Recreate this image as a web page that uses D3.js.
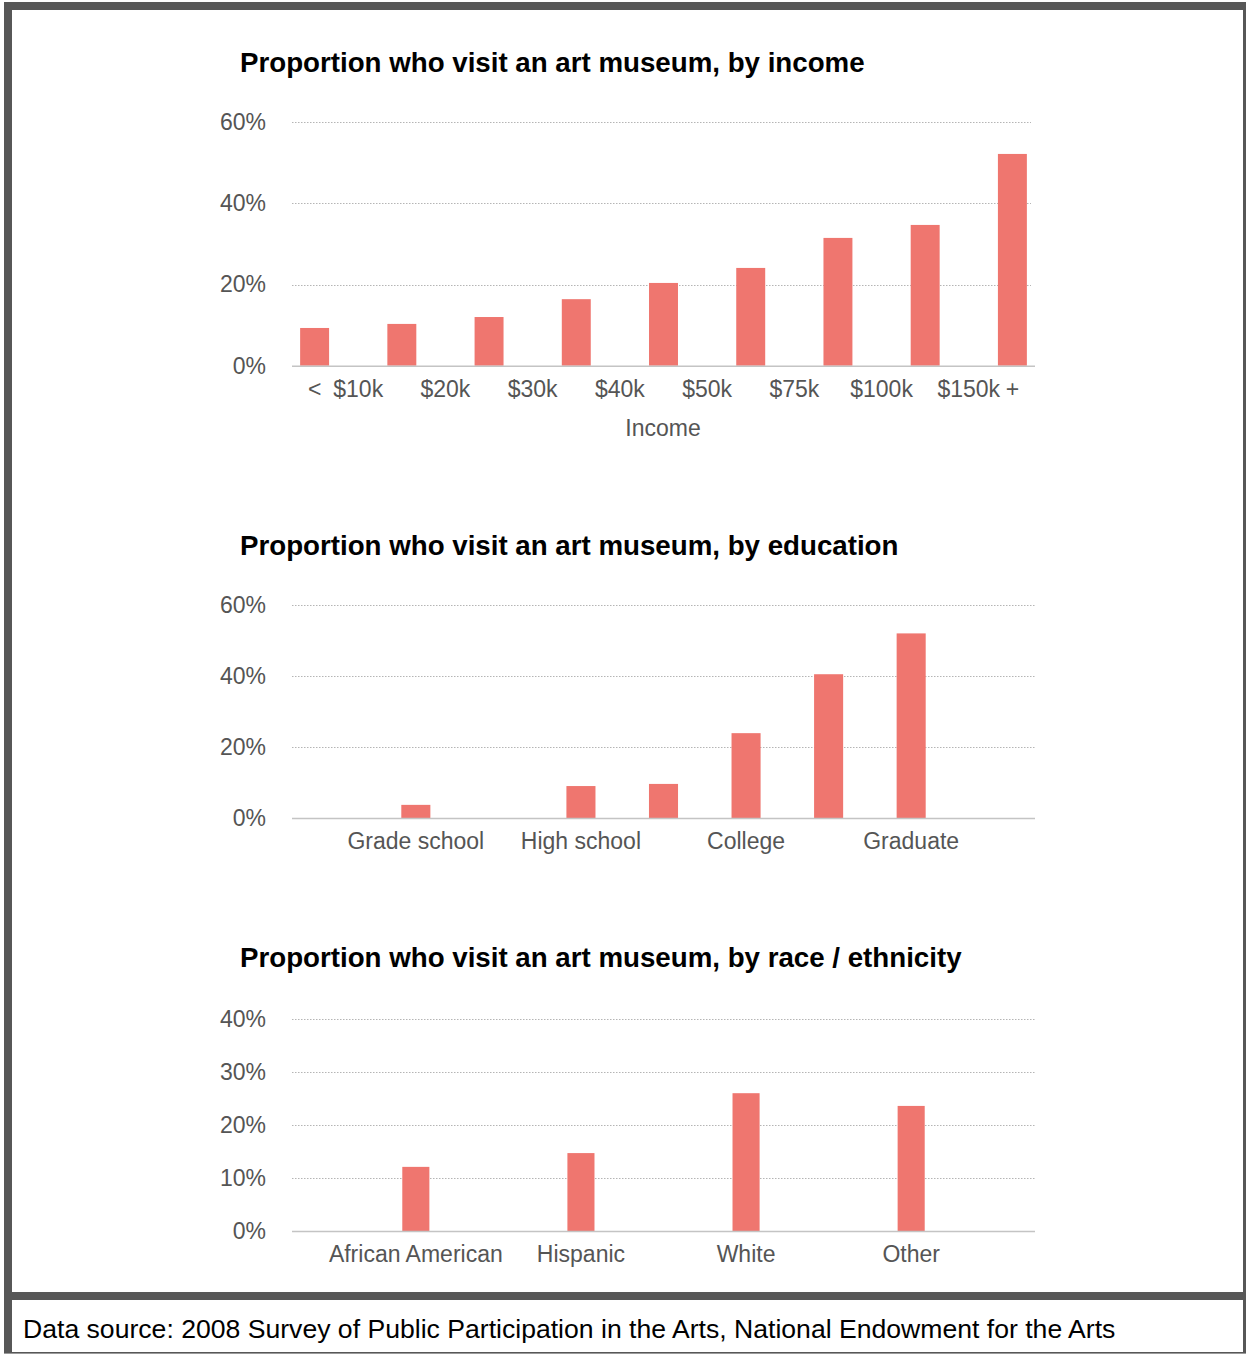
<!DOCTYPE html>
<html>
<head>
<meta charset="utf-8">
<script src="https://cdn.jsdelivr.net/npm/d3@7"></script>
<style>
  body { margin: 0; background: #fff; }
  svg { display: block; }
  text { font-family: "Liberation Sans", Arial, Helvetica, sans-serif; }
</style>
</head>
<body>
<svg id="chart" width="1247" height="1355"></svg>
<script>
// ---- Data (percent of adults who visited an art museum) ----
const incomeBins   = ["<10k", "10-20k", "20-30k", "30-40k", "40-50k", "50-75k", "75-100k", "100-150k", "150k+"];
const incomeValues = [9.3, 10.3, 12.0, 16.4, 20.4, 24.1, 31.5, 34.7, 52.2];
const incomeEdgeLabels = ["$10k", "$20k", "$30k", "$40k", "$50k", "$75k", "$100k", "$150k"];
const incomeTicks  = [0, 20, 40, 60];

const educationSlots  = ["s0", "grade", "s2", "hs", "somecol", "college", "somegrad", "graduate", "s8"];
const educationValues = [null, 3.7, null, 9.0, 9.6, 23.9, 40.5, 52.0, null];
const educationLabels = { grade: "Grade school", hs: "High school", college: "College", graduate: "Graduate" };
const educationTicks  = [0, 20, 40, 60];

const raceGroups = ["African American", "Hispanic", "White", "Other"];
const raceValues = [12.1, 14.7, 26.0, 23.6];
const raceTicks  = [0, 10, 20, 30, 40];

const sourceNote = "Data source: 2008 Survey of Public Participation in the Arts, National Endowment for the Arts";

// ---- Styles ----
const BAR = "#ef766f";
const TICK_TEXT = "#555";
const FRAME = "#575757";
const TICK_SIZE = 23;

const svg = d3.select("#chart");

// frame
svg.append("rect").attr("x", 4).attr("y", 2).attr("width", 1242).attr("height", 1351).attr("fill", FRAME);
svg.append("rect").attr("x", 12).attr("y", 10).attr("width", 1231).attr("height", 1282).attr("fill", "#fff");
svg.append("rect").attr("x", 12).attr("y", 1300).attr("width", 1231).attr("height", 52).attr("fill", "#fff");
svg.append("line").attr("x1", 4).attr("x2", 1246).attr("y1", 1353.5).attr("y2", 1353.5)
  .attr("stroke", "#9a9a9a").attr("stroke-width", 1);

const X0 = 292, X1 = 1035;

function drawPanel(opt) {
  const g = svg.append("g");
  const y = d3.scaleLinear().domain([0, opt.max]).range([opt.y0, opt.y1]);

  g.append("text").attr("x", 240).attr("y", opt.titleY).attr("dy", "0.35em")
    .attr("font-size", 27.7).attr("font-weight", "bold").attr("fill", "#000")
    .text(opt.title);

  // gridlines
  g.selectAll("line.grid").data(opt.ticks.filter(t => t > 0)).join("line")
    .attr("class", "grid")
    .attr("x1", X0).attr("x2", opt.gridEnd || X1)
    .attr("y1", d => Math.round(y(d)) + 0.5).attr("y2", d => Math.round(y(d)) + 0.5)
    .attr("stroke", "#b5b5b5").attr("stroke-width", 1).attr("stroke-dasharray", "1.5,1.5");

  // y axis labels
  const yAxis = d3.axisLeft(y).tickValues(opt.ticks).tickFormat(d => d + "%").tickSize(0).tickPadding(0);
  const ya = g.append("g").attr("transform", "translate(266,0)").call(yAxis);
  ya.select(".domain").remove();
  ya.selectAll("text").attr("font-size", TICK_SIZE).attr("fill", TICK_TEXT)
    .attr("font-family", "'Liberation Sans', Arial, sans-serif");

  // bars
  g.selectAll("rect.bar").data(opt.bars.filter(d => d.value != null)).join("rect")
    .attr("class", "bar")
    .attr("x", d => opt.x(d.key)).attr("width", opt.x.bandwidth())
    .attr("y", d => y(d.value)).attr("height", d => y(0) - y(d.value))
    .attr("fill", BAR);

  // baseline
  g.append("line").attr("x1", X0).attr("x2", X1)
    .attr("y1", y(0) + 0.5).attr("y2", y(0) + 0.5)
    .attr("stroke", "#c4c4c4").attr("stroke-width", 1.6);

  // x labels
  g.selectAll("text.xl").data(opt.xLabels).join("text")
    .attr("class", "xl")
    .attr("x", d => d.x).attr("y", opt.labelY).attr("dy", "0.35em")
    .attr("text-anchor", "middle").attr("font-size", TICK_SIZE).attr("fill", TICK_TEXT)
    .text(d => d.text);

  return { g, y };
}

// ---- Panel 1: income ----
const xIncome = d3.scaleBand().domain(incomeBins).range([271, 1056]).paddingInner(0.668).paddingOuter(0.334);
const incStep = xIncome.step();
const incCenter = k => xIncome(k) + xIncome.bandwidth() / 2;
const incomeLabels = incomeEdgeLabels.map((t, i) => ({ text: t, x: incCenter(incomeBins[i]) + incStep / 2 }));
incomeLabels.push({ text: "<", x: incCenter(incomeBins[0]) });
incomeLabels.push({ text: "+", x: incCenter(incomeBins[incomeBins.length - 1]) });
const p1 = drawPanel({
  title: "Proportion who visit an art museum, by income",
  titleY: 62, y0: 365.7, y1: 122.3, max: 60, ticks: incomeTicks, gridEnd: 1031,
  x: xIncome,
  bars: incomeBins.map((k, i) => ({ key: k, value: incomeValues[i] })),
  xLabels: incomeLabels, labelY: 389
});
p1.g.append("text").attr("x", 663).attr("y", 428).attr("dy", "0.35em")
  .attr("text-anchor", "middle").attr("font-size", TICK_SIZE).attr("fill", TICK_TEXT).text("Income");

// ---- Panel 2: education ----
const xEdu = d3.scaleBand().domain(educationSlots).range([X0, X1]).paddingInner(0.648).paddingOuter(0.324);
drawPanel({
  title: "Proportion who visit an art museum, by education",
  titleY: 545, y0: 818, y1: 605, max: 60, ticks: educationTicks,
  x: xEdu,
  bars: educationSlots.map((k, i) => ({ key: k, value: educationValues[i] })),
  xLabels: Object.entries(educationLabels).map(([k, t]) => ({ text: t, x: xEdu(k) + xEdu.bandwidth() / 2 })),
  labelY: 841
});

// ---- Panel 3: race / ethnicity ----
const xRace = d3.scaleBand().domain(raceGroups).range([X0, X1]).paddingInner(0.836).paddingOuter(0.668);
drawPanel({
  title: "Proportion who visit an art museum, by race / ethnicity",
  titleY: 957, y0: 1231, y1: 1019, max: 40, ticks: raceTicks,
  x: xRace,
  bars: raceGroups.map((k, i) => ({ key: k, value: raceValues[i] })),
  xLabels: raceGroups.map(k => ({ text: k, x: xRace(k) + xRace.bandwidth() / 2 })),
  labelY: 1254
});

// ---- source note ----
svg.append("text").attr("x", 23).attr("y", 1329).attr("dy", "0.35em")
  .attr("font-size", 26.6).attr("fill", "#000").text(sourceNote);
</script>
</body>
</html>
